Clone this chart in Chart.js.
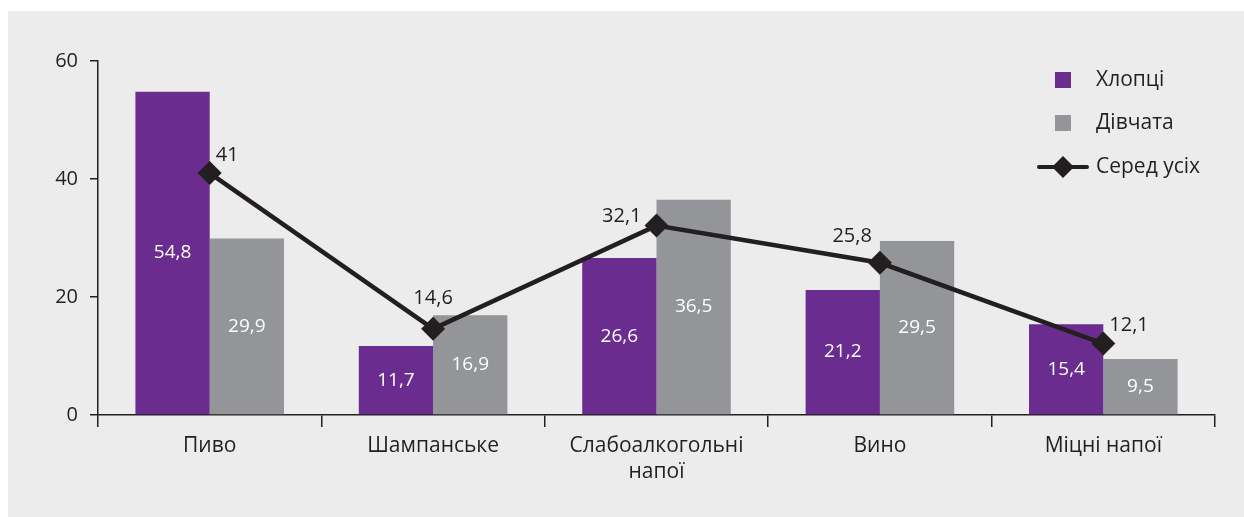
<!DOCTYPE html>
<html>
<head>
<meta charset="utf-8">
<script src="https://cdn.jsdelivr.net/npm/chart.js@4"></script>
<style>
  html, body { margin: 0; padding: 0; background: #ffffff; }
  #wrap { position: absolute; left: 8px; top: 11px; width: 1236px; height: 506px; background: #ececec; }
</style>
</head>
<body>
<div id="wrap"><canvas id="chart"></canvas></div>
<script>
const categories = ["Пиво", "Шампанське", ["Слабоалкогольні", "напої"], "Вино", "Міцні напої"];
const boys = [54.8, 11.7, 26.6, 21.2, 15.4];
const girls = [29.9, 16.9, 36.5, 29.5, 9.5];
const all = [41, 14.6, 32.1, 25.8, 12.1];
const yTicks = [0, 20, 40, 60];

// where the value label of the line sits relative to its point
const lineLabelPlace = ["right", "top", "left", "topleft", "right"];

const FONT = "'Open Sans', sans-serif";
const INK = "#231f20";
const PURPLE = "#6a2c8f";
const GREY = "#939598";

const fmt = (v) => String(v).replace(".", ",");

const labelsPlugin = {
  id: "valueLabels",
  afterDatasetsDraw(chart) {
    const ctx = chart.ctx;
    ctx.save();
    // bar labels, white, centred in the bar
    [0, 1].forEach((di) => {
      const meta = chart.getDatasetMeta(di);
      meta.data.forEach((bar, i) => {
        const v = chart.data.datasets[di].data[i];
        ctx.font = "19px " + FONT;
        ctx.fillStyle = "#ffffff";
        ctx.textAlign = "center";
        ctx.textBaseline = "middle";
        ctx.fillText(fmt(v), bar.x, (bar.y + bar.base) / 2);
      });
    });
    // line labels
    const meta = chart.getDatasetMeta(2);
    meta.data.forEach((pt, i) => {
      const v = chart.data.datasets[2].data[i];
      ctx.font = "20px " + FONT;
      ctx.fillStyle = INK;
      ctx.textBaseline = "middle";
      const p = lineLabelPlace[i];
      if (p === "right") {
        ctx.textAlign = "left";
        ctx.fillText(fmt(v), pt.x + 6, pt.y - 18);
      } else if (p === "top") {
        ctx.textAlign = "center";
        ctx.fillText(fmt(v), pt.x, pt.y - 31);
      } else if (p === "left") {
        ctx.textAlign = "right";
        ctx.fillText(fmt(v), pt.x - 15, pt.y - 9);
      } else {
        ctx.textAlign = "right";
        ctx.fillText(fmt(v), pt.x - 8, pt.y - 26);
      }
    });
    ctx.restore();
  },
};

const legendPlugin = {
  id: "sideLegend",
  afterDraw(chart) {
    const ctx = chart.ctx;
    const ds = chart.data.datasets;
    const x0 = 1047, textX = 1088;
    const rows = [69, 112, 156];
    ctx.save();
    ctx.font = "21px " + FONT;
    ctx.textAlign = "left";
    ctx.textBaseline = "middle";
    // two bar entries
    [0, 1].forEach((i) => {
      ctx.fillStyle = ds[i].backgroundColor;
      ctx.fillRect(x0, rows[i] - 8, 16, 16);
      ctx.fillStyle = INK;
      ctx.fillText(ds[i].label, textX, rows[i]);
    });
    // line entry
    const y = rows[2];
    ctx.strokeStyle = INK;
    ctx.lineWidth = 4;
    ctx.lineCap = "round";
    ctx.beginPath();
    ctx.moveTo(1031, y);
    ctx.lineTo(1079, y);
    ctx.stroke();
    ctx.fillStyle = INK;
    ctx.beginPath();
    ctx.moveTo(1055 - 11, y);
    ctx.lineTo(1055, y - 11);
    ctx.lineTo(1055 + 11, y);
    ctx.lineTo(1055, y + 11);
    ctx.closePath();
    ctx.fill();
    ctx.fillText(ds[2].label, textX, y);
    ctx.restore();
  },
};

new Chart(document.getElementById("chart"), {
  type: "bar",
  data: {
    labels: categories,
    datasets: [
      {
        label: "Хлопці",
        data: boys,
        backgroundColor: PURPLE,
        categoryPercentage: 0.665,
        barPercentage: 1.0,
        order: 2,
      },
      {
        label: "Дівчата",
        data: girls,
        backgroundColor: GREY,
        categoryPercentage: 0.665,
        barPercentage: 1.0,
        order: 2,
      },
      {
        type: "line",
        label: "Серед усіх",
        data: all,
        borderColor: INK,
        backgroundColor: INK,
        borderWidth: 4.5,
        pointStyle: "rectRot",
        pointRadius: 12,
        pointHoverRadius: 12,
        pointBackgroundColor: INK,
        pointBorderWidth: 0,
        tension: 0,
        order: 0,
      },
    ],
  },
  options: {
    responsive: true,
    maintainAspectRatio: false,
    animation: false,
    events: [],
    layout: { padding: { top: 50, right: 29, left: 0, bottom: 0 } },
    plugins: {
      legend: { display: false },
      tooltip: { enabled: false },
    },
    scales: {
      x: {
        grid: {
          offset: true,
          drawOnChartArea: false,
          drawTicks: true,
          tickLength: 12,
          color: INK,
          lineWidth: 1.5,
        },
        border: { display: true, color: INK, width: 1.5 },
        ticks: {
          color: INK,
          font: { family: FONT, size: 21, lineHeight: 1.25 },
          padding: 6,
          maxRotation: 0,
          autoSkip: false,
        },
        afterFit(scale) {
          scale.height = 102;
        },
      },
      y: {
        min: 0,
        max: 60,
        afterBuildTicks(scale) {
          scale.ticks = yTicks.map((v) => ({ value: v }));
        },
        grid: {
          drawOnChartArea: false,
          drawTicks: true,
          tickLength: 8,
          color: INK,
          lineWidth: 1.5,
        },
        border: { display: true, color: INK, width: 1.5 },
        ticks: {
          color: INK,
          font: { family: FONT, size: 20 },
          padding: 12,
        },
        afterFit(scale) {
          scale.width = 90;
        },
      },
    },
  },
  plugins: [labelsPlugin, legendPlugin],
});
</script>
</body>
</html>
